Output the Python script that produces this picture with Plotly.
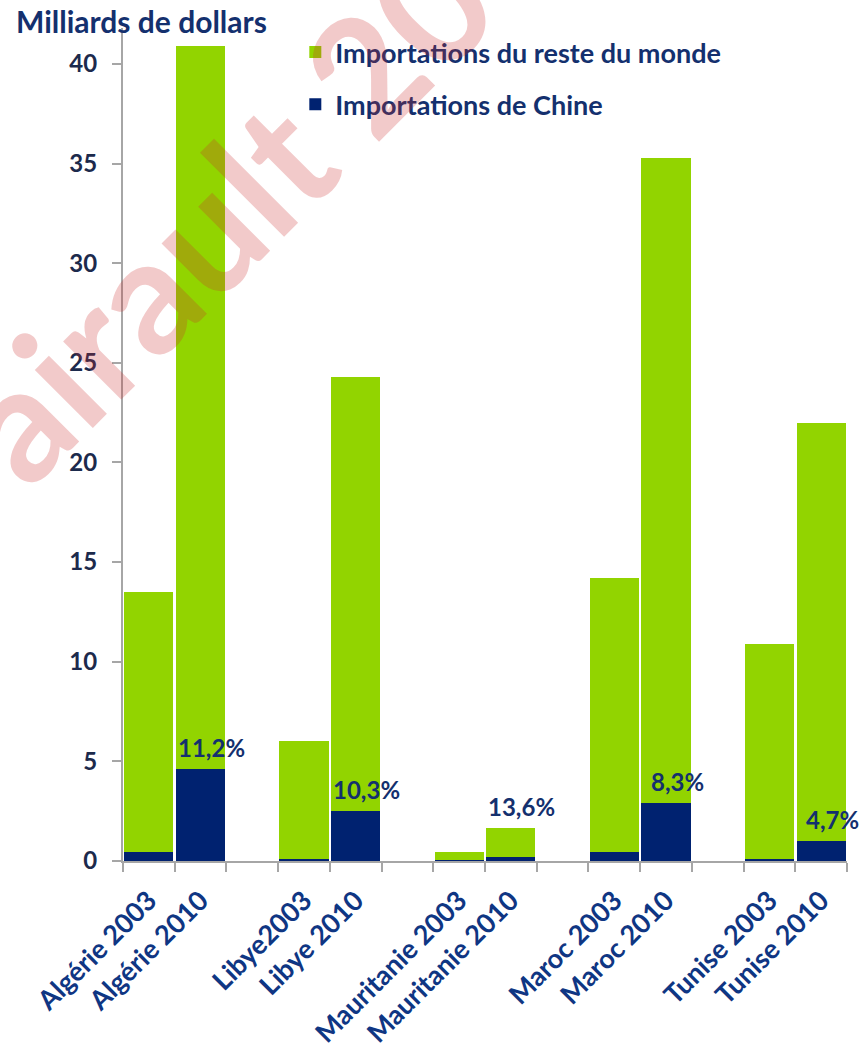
import plotly.graph_objects as go

# ---- data ----
bar_labels = ["Algérie 2003", "Algérie 2010", "Libye2003", "Libye 2010",
              "Mauritanie 2003", "Mauritanie 2010", "Maroc 2003", "Maroc 2010",
              "Tunise 2003", "Tunise 2010"]
total_imports = [13.5, 40.9, 6.0, 24.3, 0.45, 1.65, 14.2, 35.3, 10.9, 22.0]
china_imports = [0.45, 4.6, 0.12, 2.5, 0.03, 0.2, 0.45, 2.9, 0.12, 1.0]
rest_imports = [round(t - c, 2) for t, c in zip(total_imports, china_imports)]
pct_bars = ["Algérie 2010", "Libye 2010", "Mauritanie 2010", "Maroc 2010", "Tunise 2010"]
pct_labels = ["11,2%", "10,3%", "13,6%", "8,3%", "4,7%"]
y_ticks = [0, 5, 10, 15, 20, 25, 30, 35, 40]

GREEN = "#92D400"
NAVY = "#002270"
TXT = "#14306E"
FONT = "Lato"

# build category axis with blank spacer slots between country pairs
cats, chn, rest = [], [], []
for i, lab in enumerate(bar_labels):
    cats.append(lab)
    chn.append(china_imports[i])
    rest.append(rest_imports[i])
    if i % 2 == 1 and i < len(bar_labels) - 1:
        cats.append("\u200b" * (i // 2 + 1))
        chn.append(None)
        rest.append(None)

fig = go.Figure()
fig.add_trace(go.Bar(x=cats, y=chn, name="Importations de Chine",
                     marker=dict(color=NAVY, line=dict(width=0)),
                     legendgroup="a", legendrank=2))
fig.add_trace(go.Bar(x=cats, y=rest, name="Importations du reste du monde",
                     marker=dict(color=GREEN, line=dict(width=0)),
                     legendgroup="b", legendrank=1))

annotations = []
for lab, txt in zip(pct_bars, pct_labels):
    i = bar_labels.index(lab)
    yv = china_imports[i] if rest_imports[i] > 3 else total_imports[i]
    annotations.append(dict(x=lab, y=yv, xref="x", yref="y", text="<b>" + txt + "</b>",
                            showarrow=False, xanchor="center", yanchor="bottom",
                            xshift=11, yshift=5,
                            font=dict(family=FONT, size=24, color=TXT)))

annotations.append(dict(x=-0.151, y=1.008, xref="paper", yref="paper",
                        text="<b>Milliards de dollars</b>", showarrow=False,
                        xanchor="left", yanchor="middle",
                        font=dict(family=FONT, size=30, color=TXT)))

# watermark
annotations.append(dict(x=0.138, y=0.782, xref="paper", yref="paper",
                        text="airault 20", showarrow=False, textangle=-45,
                        xanchor="center", yanchor="middle",
                        font=dict(family="Lato", size=160, color="rgba(205,45,45,0.25)",
                                  weight="bold")))

fig.update_layout(
    width=859, height=1051,
    margin=dict(l=123, r=12, t=28, b=190),
    paper_bgcolor="white", plot_bgcolor="white",
    barmode="stack", bargap=0.05,
    showlegend=True,
    legend=dict(x=0.238, y=1.0, xanchor="left", yanchor="top",
                traceorder="grouped", tracegroupgap=14,
                font=dict(family=FONT, size=27, color=TXT, weight="bold"),
                bgcolor="rgba(0,0,0,0)", itemwidth=30),
    annotations=annotations,
    xaxis=dict(type="category", categoryorder="array", categoryarray=cats,
               range=[-0.5, len(cats) - 0.5],
               tickson="boundaries", ticks="outside", ticklen=9, tickwidth=2,
               tickcolor="#A6A6A6", showline=True, linecolor="#A6A6A6", linewidth=2,
               tickangle=-45, showgrid=False, automargin=False,
               ticklabelstandoff=11,
               tickfont=dict(family=FONT, size=27, color="#0F3683", weight="bold")),
    yaxis=dict(range=[0, 41.8], tickvals=y_ticks, ticks="outside", ticklen=9,
               tickwidth=2, tickcolor="#A6A6A6", showline=True, linecolor="#A6A6A6",
               linewidth=2, showgrid=False, zeroline=False, automargin=False,
               ticklabelstandoff=10,
               tickfont=dict(family=FONT, size=24, color="#1C2A4C", weight="bold")),
)

fig.write_html("out.html", config={"displayModeBar": False},
               post_script="document.body.style.margin='0';document.body.style.padding='0';")
